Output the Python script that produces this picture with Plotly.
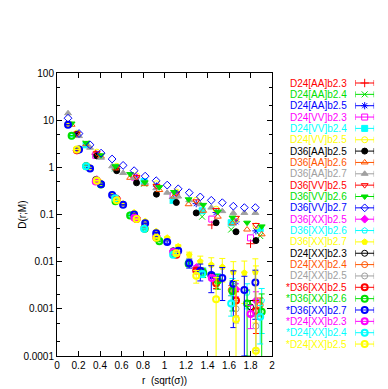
import plotly.graph_objects as go

# ---------------- data ----------------
names = ["D24[AA]b2.3", "D24[AA]b2.4", "D24[AA]b2.5", "D24[VV]b2.3", "D24[VV]b2.4", "D24[VV]b2.5",
         "D36[AA]b2.5", "D36[AA]b2.6", "D36[AA]b2.7", "D36[VV]b2.5", "D36[VV]b2.6", "D36[VV]b2.7",
         "D36[XX]b2.5", "D36[XX]b2.6", "D36[XX]b2.7", "D24[XX]b2.3", "D24[XX]b2.4", "D24[XX]b2.5",
         "*D36[XX]b2.5", "*D36[XX]b2.6", "*D36[XX]b2.7", "*D24[XX]b2.3", "*D24[XX]b2.4", "*D24[XX]b2.5"]

# r values (units of sqrt(sigma)) for each beta
r_b23 = [0.36, 0.72, 1.08, 1.44, 1.80]
r_b24 = [0.27, 0.54, 0.81, 1.08, 1.35, 1.62, 1.89]
r_b25 = [0.185, 0.37, 0.555, 0.74, 0.925, 1.11, 1.295, 1.48, 1.665, 1.85]
r_b26 = [0.136, 0.272, 0.408, 0.544, 0.68, 0.816, 0.952, 1.088, 1.224, 1.36, 1.496, 1.632, 1.768, 1.904]
r_b27 = [0.1025, 0.205, 0.3075, 0.41, 0.5125, 0.615, 0.7175, 0.82, 0.9225, 1.025, 1.1275, 1.23,
         1.3325, 1.435, 1.5375, 1.64, 1.7425, 1.845]

# D(r;M) values
d24aa_b23 = [1.9, 0.6, 0.22, 0.06, 0.024]
d24aa_b24 = [3.2, 0.95, 0.45, 0.2, 0.09, 0.048, 0.035]
d24aa_b25 = [5.0, 1.9, 0.95, 0.6, 0.4, 0.27, 0.17, 0.11, 0.07, 0.045]
d24vv_b23 = [1.8, 0.62, 0.25, 0.08, 0.032]
d24vv_b24 = [3.0, 1.0, 0.5, 0.2, 0.12, 0.067, 0.05]
d24vv_b25 = [5.3, 2.1, 1.05, 0.66, 0.45, 0.3, 0.2, 0.13, 0.079, 0.057]
d36aa_b25 = [5.0, 1.75, 0.85, 0.47, 0.27, 0.18, 0.108, 0.067, 0.043, 0.028]
d36aa_b26 = [8.0, 3.1, 1.7, 0.95, 0.6, 0.44, 0.33, 0.24, 0.165, 0.12, 0.09, 0.065, 0.048, 0.038]
d36aa_b27 = [14.0, 4.6, 2.6, 1.6, 1.05, 0.76, 0.6, 0.47, 0.36, 0.29, 0.24, 0.2, 0.165, 0.14,
             0.118, 0.108, 0.108, 0.108]
d36vv_b25 = [5.2, 2.0, 1.0, 0.62, 0.4, 0.28, 0.19, 0.125, 0.085, 0.06]
d36vv_b26 = [8.5, 3.3, 1.8, 1.05, 0.72, 0.48, 0.38, 0.3, 0.21, 0.16, 0.115, 0.086, 0.067, 0.056]
d36vv_b27 = [11.0, 5.2, 3.0, 2.0, 1.5, 1.1, 0.85, 0.65, 0.52, 0.42, 0.35, 0.29, 0.236, 0.2,
             0.178, 0.15, 0.14, 0.14]
d36xx_b25 = [2.3, 0.55, 0.22, 0.085, 0.035, 0.016, 0.0075, 0.0045, 0.0026, 0.0015]
d36xx_b26 = [4.5, 1.1, 0.45, 0.2, 0.1, 0.055, 0.03, 0.017, 0.01, 0.0065, 0.0045, 0.0032, 0.0022, 0.0015]
d36xx_b27 = [8.2, 2.5, 1.0, 0.47, 0.27, 0.17, 0.11, 0.072, 0.044, 0.032, 0.021, 0.0139, 0.0101,
             0.0086, 0.0077, 0.006, 0.0058, 0.006]
d24xx_b23 = [0.55, 0.09, 0.017, 0.0052, 0.0011]
d24xx_b24 = [1.1, 0.23, 0.055, 0.016, 0.0065, 0.0025, 0.0012]
d24xx_b25 = [2.4, 0.55, 0.22, 0.08, 0.033, 0.015, 0.0068, 0.0034, 0.001, 0.00043]
sd36xx_b25 = [2.3, 0.52, 0.21, 0.08, 0.032, 0.014, 0.0065, 0.0035, 0.0015, 0.0009]
sd36xx_b26 = [4.7, 1.05, 0.43, 0.19, 0.095, 0.05, 0.027, 0.015, 0.009, 0.0058, 0.004, 0.0024,
              0.0013, 0.00087]
sd36xx_b27 = [8.0, 2.4, 0.95, 0.44, 0.26, 0.16, 0.1, 0.065, 0.04, 0.026, 0.017, 0.0093, 0.0064,
              0.0052, 0.0045, 0.0034, 0.0025, 0.0036]
sd24xx_b23 = [0.5, 0.085, 0.016, 0.0045, 0.00078]
sd24xx_b24 = [1.05, 0.22, 0.05, 0.014, 0.0055, 0.0013, 0.00068]
sd24xx_b25 = [2.4, 0.52, 0.2, 0.08, 0.032, 0.015, 0.005, 0.0016, 0.0006, 0.00013]

# error bars
e_d36xx_b25 = [0.02, 0.005, 0.002, 0.001, 0.0006, 0.0005, 0.0006, 0.0008, 0.0008, 0.0008]
e_d36xx_b26 = [0.04, 0.01, 0.004, 0.002, 0.001, 0.0008, 0.0006, 0.0006, 0.0008, 0.0009, 0.001,
               0.0012, 0.0012, 0.0012]
e_d36xx_b27 = [0.05, 0.02, 0.008, 0.004, 0.002, 0.0015, 0.0012, 0.0012, 0.0015, 0.0015, 0.0018,
               0.002, 0.003, 0.0035, 0.004, 0.004, 0.0045, 0.0055]
e_d24xx_b23 = [0.005, 0.001, 0.0005, 0.0005, 0.0004]
e_d24xx_b24 = [0.01, 0.002, 0.001, 0.0006, 0.0006, 0.0006, 0.0005]
e_d24xx_b25 = [0.02, 0.005, 0.002, 0.001, 0.0008, 0.0008, 0.0008, 0.0008, 0.0005, 0.0003]
e_sd36xx_b25 = [0.02, 0.005, 0.002, 0.001, 0.0006, 0.0006, 0.0007, 0.0008, 0.0008, 0.0006]
e_sd36xx_b26 = [0.04, 0.01, 0.004, 0.002, 0.001, 0.0008, 0.0007, 0.0008, 0.001, 0.0012, 0.0014,
                0.0015, 0.0012, 0.0012]
e_sd36xx_b27 = [0.05, 0.02, 0.008, 0.004, 0.002, 0.0015, 0.0012, 0.0012, 0.0015, 0.0015, 0.0018,
                0.002, 0.0025, 0.003, 0.003, 0.003, 0.0024, 0.003]
e_sd24xx_b23 = [0.005, 0.001, 0.0006, 0.0005, 0.0004]
e_sd24xx_b24 = [0.01, 0.002, 0.001, 0.0008, 0.0008, 0.0006, 0.0005]
e_sd24xx_b25 = [0.02, 0.005, 0.002, 0.001, 0.0008, 0.0008, 0.0015, 0.003, 0.0034, 0.008]

x_ticks = [0, 0.2, 0.4, 0.6, 0.8, 1, 1.2, 1.4, 1.6, 1.8, 2]
y_tickvals = [0.0001, 0.001, 0.01, 0.1, 1, 10, 100]
y_ticktext = ["0.0001", "0.001", "0.01", "0.1", "1", "10", "100"]
y_minor = [2e-4, 5e-4, 2e-3, 5e-3, 2e-2, 5e-2, 0.2, 0.5, 2, 5, 20, 50]

# ---------------- styling ----------------
palette = ["#ff0000", "#00e000", "#0000ff", "#ff00ff", "#00ffff", "#ffff00",
           "#000000", "#ff5500", "#a0a0a0"]
symbols = ["cross-thin-open", "x-thin-open", "asterisk-open", "square-open", "square",
           "circle-open", "circle", "triangle-up-open", "triangle-up", "triangle-down-open",
           "triangle-down", "diamond-open", "diamond", "pentagon-open", "pentagon",
           "circle-open", "circle-open", "circle-open",
           "circle-open", "circle-open", "circle-open", "circle-open", "circle-open", "circle-open"]

series = [
    (r_b23, d24aa_b23, None), (r_b24, d24aa_b24, None), (r_b25, d24aa_b25, None),
    (r_b23, d24vv_b23, None), (r_b24, d24vv_b24, None), (r_b25, d24vv_b25, None),
    (r_b25, d36aa_b25, None), (r_b26, d36aa_b26, None), (r_b27, d36aa_b27, None),
    (r_b25, d36vv_b25, None), (r_b26, d36vv_b26, None), (r_b27, d36vv_b27, None),
    (r_b25, d36xx_b25, e_d36xx_b25), (r_b26, d36xx_b26, e_d36xx_b26), (r_b27, d36xx_b27, e_d36xx_b27),
    (r_b23, d24xx_b23, e_d24xx_b23), (r_b24, d24xx_b24, e_d24xx_b24), (r_b25, d24xx_b25, e_d24xx_b25),
    (r_b25, sd36xx_b25, e_sd36xx_b25), (r_b26, sd36xx_b26, e_sd36xx_b26), (r_b27, sd36xx_b27, e_sd36xx_b27),
    (r_b23, sd24xx_b23, e_sd24xx_b23), (r_b24, sd24xx_b24, e_sd24xx_b24), (r_b25, sd24xx_b25, e_sd24xx_b25),
]

W, H = 388, 389
ML, MT, MB = 57, 73, 33
PW = W - ML            # paper width (right margin 0)
PH = H - MT - MB       # 283
plot_w = 217
key_x0, key_x1, text_right = 358, 377, 352
row0, row_step = 83, 11.35
y2_top = (MT - row0) / row_step
y2_bot = (H - MB - row0) / row_step

fig = go.Figure()
for i, (rv, dv, ev) in enumerate(series):
    c = palette[i % 9]
    lw = 2 if i >= 18 else 1
    mk = dict(symbol=symbols[i], size=6, color=c, line=dict(width=lw, color=c))
    err = dict(type="data", array=ev, visible=True, color=c, thickness=1, width=3) if ev else dict(visible=False)
    fig.add_trace(go.Scatter(x=rv, y=dv, mode="markers", name=names[i], marker=mk,
                             error_y=err, xaxis="x", yaxis="y", showlegend=False))
    # legend key (text left, marker with bar right, gnuplot style)
    fig.add_trace(go.Scatter(x=[0.5], y=[i], mode="markers", marker=mk, xaxis="x2", yaxis="y2",
                             error_x=dict(type="constant", value=0.5, color=c, thickness=1, width=3),
                             showlegend=False, hoverinfo="skip", cliponaxis=False))
    fig.add_annotation(x=(text_right - ML) / PW, xref="paper", y=i, yref="y2", text=names[i],
                       showarrow=False, xanchor="right", yanchor="middle",
                       font=dict(size=10, color=c))

axis_common = dict(showline=True, linecolor="black", linewidth=1, mirror="ticks",
                   ticks="inside", ticklen=5, tickcolor="black", tickwidth=1,
                   showgrid=False, zeroline=False)
fig.update_layout(
    width=W, height=H,
    margin=dict(l=ML, r=0, t=MT, b=MB, pad=0),
    paper_bgcolor="white", plot_bgcolor="white",
    font=dict(family="Liberation Sans, Arial, sans-serif", size=10, color="black"),
    showlegend=False,
    xaxis=dict(domain=[0, plot_w / PW], range=[0, 2], tickvals=x_ticks, **axis_common),
    yaxis=dict(type="log", range=[-4, 2], tickvals=y_tickvals, ticktext=y_ticktext,
               minor=dict(tickvals=y_minor, ticks="inside", ticklen=3, tickcolor="black", showgrid=False),
               **axis_common),
    xaxis2=dict(domain=[(key_x0 - ML) / PW, (key_x1 - ML) / PW], range=[0, 1], visible=False,
                anchor="y2"),
    yaxis2=dict(domain=[0, 1], range=[y2_bot, y2_top], visible=False, anchor="x2"),
)
fig.add_annotation(x=(22 - ML) / PW, xref="paper", y=0.5, yref="paper", text="D(r;M)",
                   textangle=-90, showarrow=False, xanchor="center", yanchor="middle",
                   font=dict(size=10))
fig.add_annotation(x=(plot_w / 2) / PW, xref="paper", y=-(380 - (H - MB)) / PH, yref="paper",
                   text="r  (sqrt(σ))", showarrow=False, xanchor="center", yanchor="middle",
                   font=dict(size=10))

fig.write_html("out.html", config={"displayModeBar": False},
               post_script="document.body.style.margin='0';")
